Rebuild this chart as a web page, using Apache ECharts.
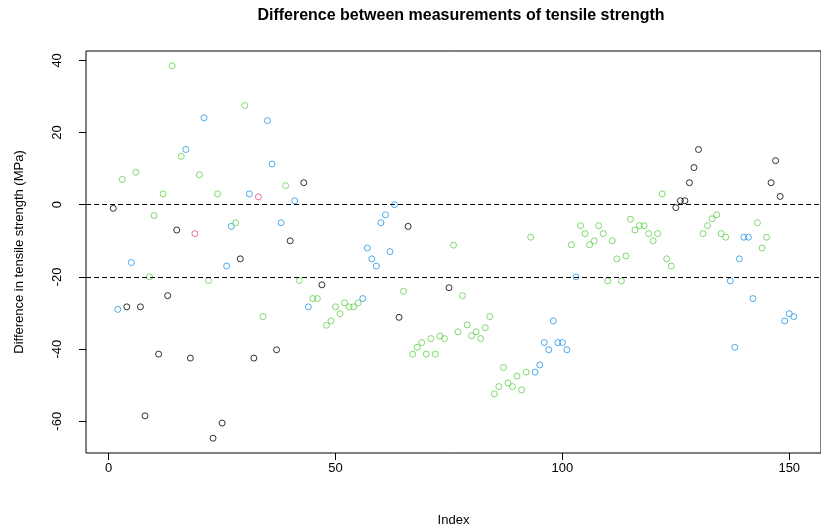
<!DOCTYPE html>
<html>
<head>
<meta charset="utf-8">
<script src="https://cdn.jsdelivr.net/npm/echarts@6/dist/echarts.min.js"></script>
<style>
html,body{margin:0;padding:0;background:#fff;}
#chart{width:821px;height:532px;}
</style>
</head>
<body>
<div id="chart"></div>
<script>
// Difference values (MPa), index 1..151
var diffs = [
  -1, -29, 7, -28.3, -16, 9, -28.3, -58.5, -20, -3,
  -41.4, 3, -25.2, 38.5, -7, 13.4, 15.3, -42.5, -8, 8.3,
  24.1, -21, -64.7, 3, -60.5, -17, -6, -5, -15, 27.5,
  3, -42.5, 2.2, -31, 23.3, 11.3, -40.2, -5, 5.3, -10,
  1.1, -21, 6.1, -28.3, -26, -26, -22.2, -33.4, -32.2, -28.3,
  -30.2, -27.2, -28.3, -28.3, -27.2, -26, -12, -15, -17, -5,
  -2.8, -13, 0, -31.2, -24, -6, -41.4, -39.5, -38.2, -41.4,
  -37.1, -41.4, -36.4, -37.1, -23, -11.2, -35.2, -25.2, -33.3, -36.3,
  -35.2, -37.1, -34.1, -31, -52.4, -50.4, -45.1, -49.4, -50.4, -47.5,
  -51.3, -46.4, -9, -46.4, -44.4, -38.2, -40.2, -32.2, -38.2, -38.2,
  -40.2, -11.1, -20, -5.8, -8, -11.1, -10, -5.8, -8, -21.1,
  -10, -15, -21.1, -14.2, -4, -7, -5.8, -5.8, -8, -10,
  -8, 3, -15, -17, -0.8, 1.1, 1.1, 6.1, 10.3, 15.3,
  -8, -5.8, -3.9, -2.8, -8, -9, -21.1, -39.5, -15, -9,
  -9, -26, -5, -12, -9, 6.1, 12.2, 2.3, -32.2, -30.2,
  -31
];
// colour group per point (1 black, 2 red, 3 green, 4 blue)
var groups = [
  1,4,3,1,4,3,1,1,3,3,
  1,3,1,3,1,3,4,1,2,3,
  4,3,1,3,1,4,4,3,1,3,
  4,1,2,3,4,4,1,4,3,1,
  4,3,1,4,3,3,1,3,3,3,
  3,3,3,3,3,4,4,4,4,4,
  4,4,4,1,3,1,3,3,3,3,
  3,3,3,3,1,3,3,3,3,3,
  3,3,3,3,3,3,3,3,3,3,
  3,3,3,4,4,4,4,4,4,4,
  4,3,4,3,3,3,3,3,3,3,
  3,3,3,3,3,3,3,3,3,3,
  3,3,3,3,1,1,1,1,1,1,
  3,3,3,3,3,3,4,4,4,4,
  4,4,3,3,3,1,1,1,4,4,
  4
];
var palette = {1:'#000000', 2:'#DF536B', 3:'#61D04F', 4:'#2297E6'};
var xTicks = [0, 50, 100, 150];
var yTicks = [-60, -40, -20, 0, 20, 40];
var refLines = [0, -20];

var data = diffs.map(function(v, i){
  return {value:[i+1, v], itemStyle:{color:'rgba(0,0,0,0)', borderColor:palette[groups[i]], borderWidth:1}};
});

var chart = echarts.init(document.getElementById('chart'), null, {renderer:'canvas'});
var font = 'Liberation Sans, Arial, sans-serif';
chart.setOption({
  animation:false,
  backgroundColor:'#ffffff',
  title:{
    text:'Difference between measurements of tensile strength',
    left:456, top:3, textAlign:'center',
    textStyle:{fontFamily:font, fontSize:16, fontWeight:'bold', color:'#000'}
  },
  grid:{left:86, top:51, width:741, height:403, show:true, borderColor:'#000', borderWidth:1, backgroundColor:'transparent'},
  xAxis:{
    type:'value', min:-5, max:157,
    name:'Index', nameLocation:'middle', nameGap:61,
    nameTextStyle:{fontFamily:font, fontSize:13, color:'#000'},
    axisLine:{show:false, onZero:false},
    axisTick:{show:true, inside:false, length:7, customValues:xTicks, lineStyle:{color:'#000'}},
    axisLabel:{customValues:xTicks, margin:9, fontFamily:font, fontSize:13, color:'#000'},
    splitLine:{show:false}
  },
  yAxis:{
    type:'value', min:-68.8, max:42.6,
    name:'Difference in tensile strength (MPa)', nameLocation:'middle', nameGap:60,
    nameTextStyle:{fontFamily:font, fontSize:13, color:'#000'},
    axisLine:{show:false, onZero:false},
    axisTick:{show:true, inside:false, length:7, customValues:yTicks, lineStyle:{color:'#000'}},
    axisLabel:{customValues:yTicks, rotate:90, margin:22, fontFamily:font, fontSize:13, color:'#000'},
    splitLine:{show:false}
  },
  series:[{
    type:'scatter',
    symbol:'circle',
    symbolSize:6,
    data:data,
    markLine:{
      silent:true, symbol:['none','none'], label:{show:false},
      lineStyle:{color:'#000', type:[5,3], width:1},
      data:refLines.map(function(v){return {yAxis:v};})
    }
  }]
});
</script>
</body>
</html>
